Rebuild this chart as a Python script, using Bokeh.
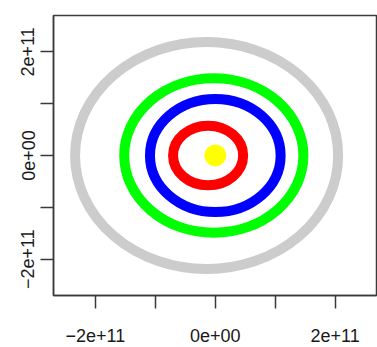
from bokeh.plotting import figure
from bokeh.models import FixedTicker, CustomJSTickFormatter, Range1d
from bokeh.embed import file_html
from bokeh.resources import INLINE

# Orbits (ellipse centre, full width, full height), metres
orbit_names = ["Mercury", "Venus", "Earth", "Mars"]
orbit_cx = [-1.2e10, 0.0, -2.5e9, -1.45e10]
orbit_cy = [0.0, 0.0, 0.0, 0.0]
orbit_w = [1.17e11, 2.18e11, 2.99e11, 4.39e11]
orbit_h = [1.15e11, 2.18e11, 2.98e11, 4.38e11]
orbit_colors = ["#FF0000", "#0000FF", "#00FF00", "#CCCCCC"]

sun_x = [0.0]
sun_y = [0.0]
sun_color = "#FFFF00"

tick_values = [-2e11, -1e11, 0.0, 1e11, 2e11]
tick_labels = ["\u22122e+11", "", "0e+00", "", "2e+11"]

p = figure(width=377, height=347, output_backend="svg", toolbar_location=None,
           x_range=Range1d(-2.7e11, 2.69e11), y_range=Range1d(-2.7e11, 2.7e11),
           min_border_left=53, min_border_right=1, min_border_top=15, min_border_bottom=52)

p.ellipse(x=orbit_cx, y=orbit_cy, width=orbit_w, height=orbit_h,
          fill_color=None, line_color=orbit_colors, line_width=10)
p.scatter(x=sun_x, y=sun_y, size=21, fill_color=sun_color, line_color=sun_color)

fmt = CustomJSTickFormatter(args=dict(vals=tick_values, labs=tick_labels), code="""
const i = vals.findIndex(v => Math.abs(v - tick) < 1e6);
return i >= 0 ? labs[i] : "";
""")

p.xgrid.visible = False
p.ygrid.visible = False
p.outline_line_color = "#3a3a3a"
p.outline_line_width = 1.5
p.background_fill_color = "white"
p.border_fill_color = "white"

for ax in (p.xaxis[0], p.yaxis[0]):
    ax.ticker = FixedTicker(ticks=tick_values, minor_ticks=[])
    ax.formatter = fmt
    ax.axis_line_color = "#3a3a3a"
    ax.axis_line_width = 1.5
    ax.major_tick_line_color = "#3a3a3a"
    ax.major_tick_line_width = 1.5
    ax.major_tick_out = 13
    ax.major_tick_in = 0
    ax.minor_tick_line_color = None
    ax.major_label_text_font = "Liberation Sans"
    ax.major_label_text_font_size = "18px"
    ax.major_label_text_color = "#1a1a1a"

p.xaxis[0].major_label_standoff = 20
p.yaxis[0].major_label_standoff = 6
p.yaxis[0].major_label_orientation = "vertical"

open("out.html", "w").write(file_html(p, INLINE))
